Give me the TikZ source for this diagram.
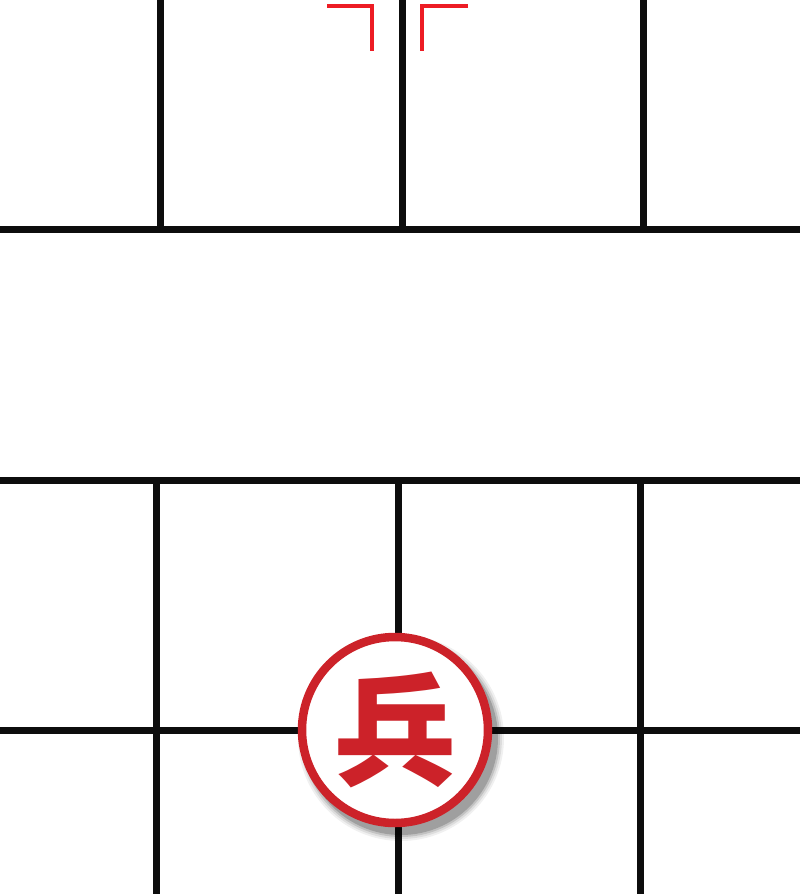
\documentclass[tikz,border=0pt]{standalone}
\usepackage{fontspec}
\newfontfamily\cjk{Noto Sans CJK SC}
\definecolor{pieceRed}{HTML}{CC2229}
\definecolor{markRed}{HTML}{ED1C24}

\begin{document}
\begin{tikzpicture}[x=1pt,y=-1pt]
	\tikzset{
		grid/.style={line width=7pt, black!95},
		palace/.style={line width=3.5pt, markRed},
		piece/.style={circle, draw=pieceRed, line width=8.5pt, fill=white, minimum size=186pt, inner sep=0pt}
	}
	\useasboundingbox (0,0) rectangle (800,894);
	% upper half
	\draw [grid] (0,229) -- (800,229);
	\draw [grid] (160,0) -- (160,229);
	\draw [grid] (402,0) -- (402,229);
	\draw [grid] (643,0) -- (643,229);
	% palace corners
	\draw [palace] (327,6) -- (372,6) -- (372,51);
	\draw [palace] (468,6) -- (422,6) -- (422,51);
	% lower half
	\draw [grid] (0,480) -- (800,480);
	\draw [grid] (0,730) -- (800,730);
	\draw [grid] (156,480) -- (156,894);
	\draw [grid] (398,480) -- (398,894);
	\draw [grid] (640,480) -- (640,894);
	% shadow
	\foreach \r/\o in {103/0.06, 101/0.08, 99/0.12, 97/0.18}
		\fill [black, opacity=\o] (401,738) circle (\r);
	\node [piece] (bing) at (395,730) {};
	\node [pieceRed, font=\cjk\bfseries\fontsize{122}{122}\selectfont] (bingText) at (bing.center) {兵};
\end{tikzpicture}
\end{document}
